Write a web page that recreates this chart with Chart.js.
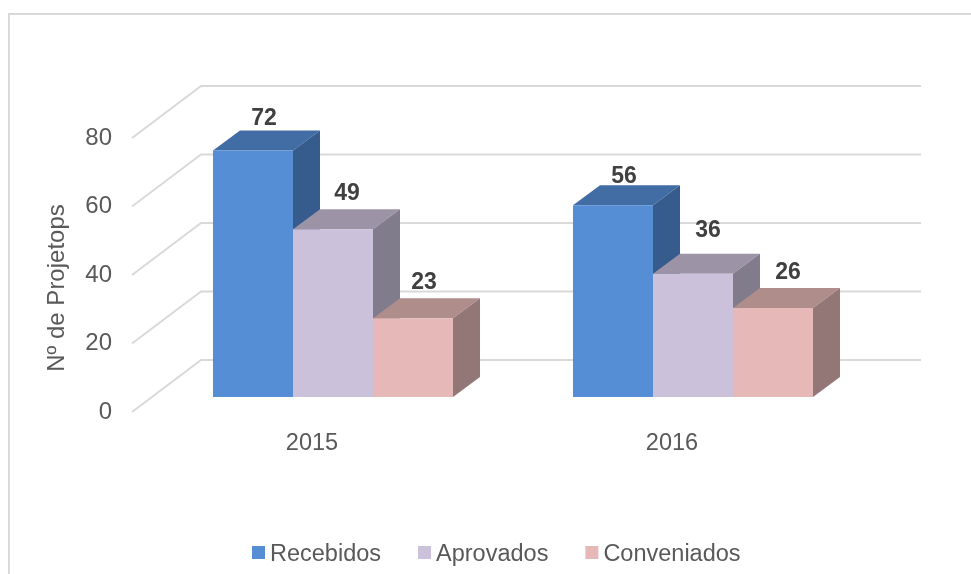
<!DOCTYPE html>
<html>
<head>
<meta charset="utf-8">
<style>
  body { margin: 0; background: #fff; }
  canvas { display: block; }
</style>
<script src="https://cdn.jsdelivr.net/npm/chart.js@4"></script>
</head>
<body>
<canvas id="chart" width="971" height="574"></canvas>
<script>
const years = ["2015", "2016"]
const seriesNames = ["Recebidos", "Aprovados", "Conveniados"]
const recebidos = [72, 56]
const aprovados = [49, 36]
const conveniados = [23, 26]
const axisTitle = "Nº de Projetops"

const frontColors = ["#558ED5", "#CCC1DA", "#E6B9B8"]
const topColors = ["#416DA4", "#9C93A6", "#AF8D8B"]
const sideColors = ["#355C8C", "#807C8C", "#937776"]

// the labels were moved by hand in the original, one nudge per bar
const labelNudges = [
  [[11, -33], [11, -30]],
  [[14, -37], [15, -44]],
  [[11, -37], [15, -36]],
]

const textColor = "#595959"
const gridColor = "#D9D9D9"
const fontSize = 24

// fake 3D: walls, bar faces and so on
const wallDx = 69
const wallDy = 52
const barShiftX = 21
const barShiftY = -15
const depthDx = 27
const depthDy = 20

const fake3d = {
  id: "fake3d",
  beforeDraw(chart) {
    const { ctx, scales } = chart
    const yScale = scales.y
    const { left, right } = chart.chartArea

    // frame
    ctx.save()
    ctx.strokeStyle = gridColor
    ctx.lineWidth = 2
    ctx.beginPath()
    ctx.moveTo(9, 574)
    ctx.lineTo(9, 14)
    ctx.lineTo(971, 14)
    ctx.stroke()

    // walls
    yScale.ticks.forEach((tick) => {
      const y = yScale.getPixelForValue(tick.value)
      ctx.beginPath()
      ctx.moveTo(left, y)
      ctx.lineTo(left + wallDx, y - wallDy)
      ctx.lineTo(right + wallDx, y - wallDy)
      ctx.stroke()
    })

    // axis title
    ctx.translate(57, 288)
    ctx.rotate(-Math.PI / 2)
    ctx.fillStyle = textColor
    ctx.font = `${fontSize}px "Liberation Sans"`
    ctx.textAlign = "center"
    ctx.textBaseline = "middle"
    ctx.fillText(axisTitle, 0, 0)
    ctx.restore()
  },
  beforeDatasetsDraw(chart) {
    const { ctx } = chart
    ctx.save()
    ctx.translate(barShiftX, barShiftY)
    years.forEach((year, j) => {
      chart.data.datasets.forEach((ds, i) => {
        const bar = chart.getDatasetMeta(i).data[j]
        const l = bar.x - bar.width / 2
        const r = bar.x + bar.width / 2

        ctx.fillStyle = topColors[i]
        ctx.beginPath()
        ctx.moveTo(l, bar.y)
        ctx.lineTo(l + depthDx, bar.y - depthDy)
        ctx.lineTo(r + depthDx, bar.y - depthDy)
        ctx.lineTo(r, bar.y)
        ctx.closePath()
        ctx.fill()

        ctx.fillStyle = sideColors[i]
        ctx.beginPath()
        ctx.moveTo(r, bar.y)
        ctx.lineTo(r + depthDx, bar.y - depthDy)
        ctx.lineTo(r + depthDx, bar.base - depthDy)
        ctx.lineTo(r, bar.base)
        ctx.closePath()
        ctx.fill()
      })
    })
  },
  afterDatasetsDraw(chart) {
    const { ctx } = chart
    ctx.restore()

    // value labels
    ctx.save()
    ctx.fillStyle = "#404040"
    ctx.font = `bold ${fontSize - 1}px "Liberation Sans"`
    ctx.textAlign = "center"
    ctx.textBaseline = "middle"
    chart.data.datasets.forEach((ds, i) => {
      chart.getDatasetMeta(i).data.forEach((bar, j) => {
        const [nx, ny] = labelNudges[i][j]
        ctx.fillText(ds.data[j], bar.x + barShiftX + nx, bar.y + barShiftY + ny + 1)
      })
    })
    ctx.restore()
  },
  afterDraw(chart) {
    // legend, the built in one can't do the small swatch gap
    const { ctx } = chart
    ctx.save()
    ctx.font = `${fontSize - 0.5}px "Liberation Sans"`
    ctx.textBaseline = "middle"
    let x = 252
    seriesNames.forEach((name, i) => {
      ctx.fillStyle = frontColors[i]
      ctx.fillRect(x, 546, 13, 13)
      ctx.fillStyle = textColor
      ctx.fillText(name, x + 18, 555)
      x += 18 + ctx.measureText(name).width + 37
    })
    ctx.restore()
  },
}

const config = {
  type: "bar",
  data: {
    labels: years,
    datasets: [
      { label: seriesNames[0], data: recebidos, backgroundColor: frontColors[0] },
      { label: seriesNames[1], data: aprovados, backgroundColor: frontColors[1] },
      { label: seriesNames[2], data: conveniados, backgroundColor: frontColors[2] },
    ],
  },
  options: {
    responsive: false,
    animation: false,
    clip: false,
    categoryPercentage: 2 / 3,
    barPercentage: 1,
    layout: {
      padding: { left: 0, right: 119, top: 138, bottom: 62 },
    },
    plugins: {
      legend: { display: false },
      tooltip: { enabled: false },
    },
    scales: {
      x: {
        afterFit: (scale) => { scale.height = 100 },
        grid: { display: false, drawTicks: false },
        border: { display: false },
        ticks: {
          color: textColor,
          padding: 17,
          font: { family: "Liberation Sans", size: fontSize - 0.5 },
        },
      },
      y: {
        min: 0,
        max: 80,
        afterFit: (scale) => { scale.width = 132 },
        grid: { display: false, drawTicks: false },
        border: { display: false },
        ticks: {
          stepSize: 20,
          color: textColor,
          padding: 20,
          font: { family: "Liberation Sans", size: fontSize },
        },
      },
    },
  },
  plugins: [fake3d],
}

new Chart(document.getElementById("chart"), config)
</script>
</body>
</html>
